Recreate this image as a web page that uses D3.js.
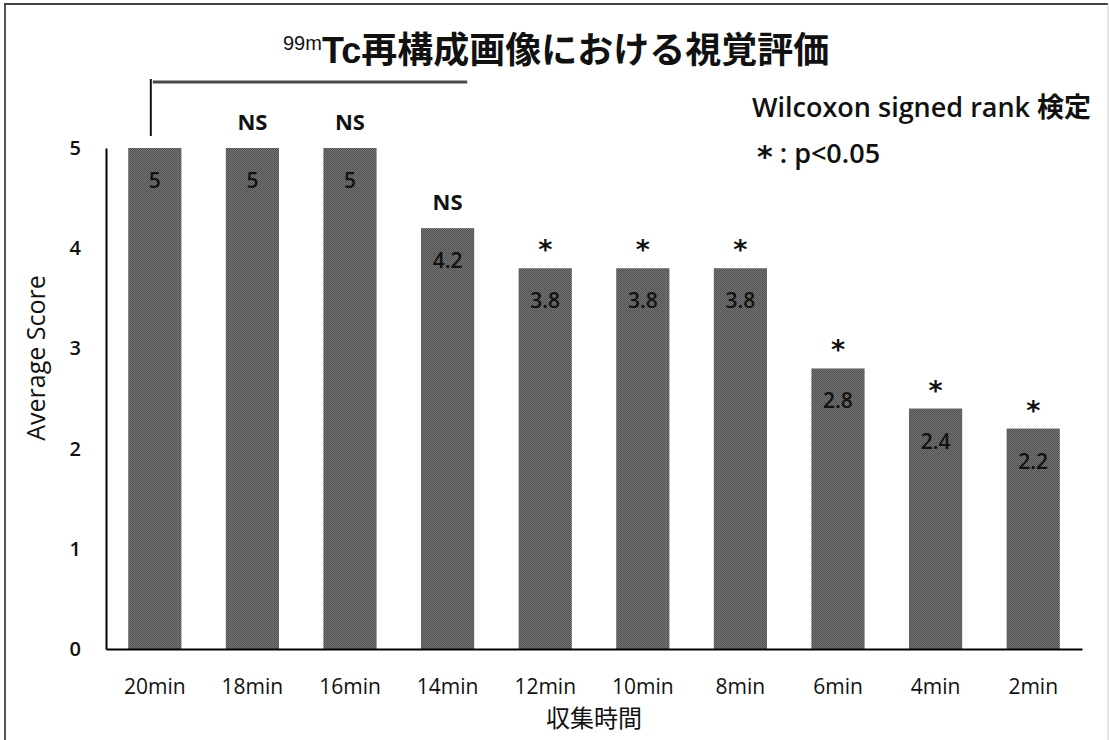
<!DOCTYPE html>
<html>
<head>
<meta charset="utf-8">
<script src="https://cdn.jsdelivr.net/npm/d3@7"></script>
<style>
  html, body { margin: 0; padding: 0; background: #fff; }
  svg { display: block; }
</style>
</head>
<body>
<svg id="chart" width="1109" height="740"></svg>
<script>
// Acquisition time categories and the mean visual score for each
const categories = ["20min", "18min", "16min", "14min", "12min", "10min", "8min", "6min", "4min", "2min"];
const scores = [5, 5, 5, 4.2, 3.8, 3.8, 3.8, 2.8, 2.4, 2.2];
// Significance marks versus the 20min reference (Wilcoxon signed rank test)
const marks = ["", "NS", "NS", "NS", "*", "*", "*", "*", "*", "*"];
const yTicks = [0, 1, 2, 3, 4, 5];

const svg = d3.select("#chart");
const W = 1109, H = 740;
const margin = { left: 106, right: 27, top: 148, bottom: 91 };

const latin = "'Open Sans', 'Noto Sans', sans-serif";
const cjk = "'Noto Sans CJK JP', 'Noto Sans', sans-serif";
const arial = "'Liberation Sans', Arial, sans-serif";
const starFont = "'DejaVu Sans', sans-serif";

// Outer frame
svg.append("line").attr("x1", 5).attr("y1", 4).attr("x2", 5).attr("y2", H)
  .attr("stroke", "#555").attr("stroke-width", 2);
svg.append("line").attr("x1", 4).attr("y1", 4).attr("x2", 1108).attr("y2", 4)
  .attr("stroke", "#444").attr("stroke-width", 2);
svg.append("line").attr("x1", 1108).attr("y1", 4).attr("x2", 1108).attr("y2", H)
  .attr("stroke", "#ccc").attr("stroke-width", 1);

// Dithered grey fill for the bars
const defs = svg.append("defs");
const pat = defs.append("pattern").attr("id", "dither")
  .attr("width", 2).attr("height", 2).attr("patternUnits", "userSpaceOnUse");
pat.append("rect").attr("width", 2).attr("height", 2).attr("fill", "#757575");
pat.append("rect").attr("width", 1).attr("height", 1).attr("fill", "#505050");
pat.append("rect").attr("x", 1).attr("y", 1).attr("width", 1).attr("height", 1).attr("fill", "#505050");

const x = d3.scaleBand()
  .domain(categories)
  .range([margin.left, W - margin.right])
  .paddingInner(0.455)
  .paddingOuter(0.2275);

const y = d3.scaleLinear()
  .domain([0, 5])
  .range([H - margin.bottom, margin.top]);

// Bars
svg.append("g").selectAll("rect")
  .data(categories)
  .join("rect")
  .attr("x", d => x(d))
  .attr("y", (d, i) => y(scores[i]))
  .attr("width", x.bandwidth())
  .attr("height", (d, i) => y(0) - y(scores[i]))
  .attr("fill", "url(#dither)");

// Value labels inside the bars
svg.append("g").selectAll("text")
  .data(categories)
  .join("text")
  .attr("x", d => x(d) + x.bandwidth() / 2)
  .attr("y", (d, i) => y(scores[i]) + 40)
  .attr("text-anchor", "middle")
  .attr("font-family", latin)
  .attr("font-size", 21)
  .attr("font-weight", 600)
  .attr("fill", "#111")
  .text((d, i) => scores[i]);

// Significance marks above the bars
svg.append("g").selectAll("text")
  .data(categories)
  .join("text")
  .attr("x", d => x(d) + x.bandwidth() / 2)
  .attr("y", (d, i) => y(scores[i]) - (marks[i] === "*" ? 9 : 18))
  .attr("text-anchor", "middle")
  .attr("font-family", (d, i) => marks[i] === "*" ? starFont : latin)
  .attr("font-size", (d, i) => marks[i] === "*" ? 27 : 22)
  .attr("font-weight", 700)
  .attr("fill", "#111")
  .text((d, i) => marks[i]);

// Reference bracket from the 20min bar
const bx0 = x(categories[0]) + x.bandwidth() / 2 - 4;
const bx1 = x(categories[3]) + x.bandwidth() - 7;
svg.append("line").attr("x1", bx0).attr("x2", bx0).attr("y1", 79).attr("y2", y(5) - 12)
  .attr("stroke", "#111").attr("stroke-width", 2);
svg.append("line").attr("x1", bx0 + 2).attr("x2", bx1).attr("y1", 82).attr("y2", 82)
  .attr("stroke", "#4a4a4a").attr("stroke-width", 3);

// Axes
const yAxis = svg.append("g")
  .attr("transform", `translate(${margin.left},0)`)
  .call(d3.axisLeft(y).tickValues(yTicks).tickSize(0).tickPadding(25).tickFormat(d3.format("d")));
yAxis.select(".domain").attr("stroke", "#000").attr("stroke-width", 2);
yAxis.selectAll("text").attr("font-family", latin).attr("font-size", 20).attr("font-weight", 600).attr("fill", "#111");

const xAxis = svg.append("g")
  .attr("transform", `translate(0,${y(0)})`)
  .call(d3.axisBottom(x).tickSize(0).tickPadding(30));
xAxis.select(".domain").attr("stroke", "#000").attr("stroke-width", 2);
xAxis.selectAll("text").attr("font-family", latin).attr("font-size", 21).attr("fill", "#111");

// Axis titles
svg.append("text")
  .attr("transform", "translate(45,358) rotate(-90)")
  .attr("text-anchor", "middle")
  .attr("font-family", latin)
  .attr("font-size", 25)
  .attr("fill", "#111")
  .text("Average Score");

svg.append("text")
  .attr("x", 594).attr("y", 727)
  .attr("text-anchor", "middle")
  .attr("font-family", cjk)
  .attr("font-size", 24)
  .attr("fill", "#111")
  .text("収集時間");

// Title
const title = svg.append("text")
  .attr("x", 283).attr("y", 63)
  .attr("fill", "#111");
title.append("tspan")
  .attr("font-family", arial)
  .attr("font-size", 20)
  .attr("dy", -13)
  .text("99m");
title.append("tspan")
  .attr("font-family", arial)
  .attr("font-size", 36)
  .attr("font-weight", 700)
  .attr("dy", 13)
  .text("Tc");
title.append("tspan")
  .attr("font-family", cjk)
  .attr("font-size", 36)
  .attr("font-weight", 700)
  .text("再構成画像における視覚評価");

// Test legend
svg.append("text")
  .attr("x", 752).attr("y", 117)
  .attr("font-family", latin)
  .attr("font-size", 27)
  .attr("font-weight", 600)
  .attr("fill", "#111")
  .text("Wilcoxon signed rank ")
  .append("tspan").attr("font-family", cjk).attr("font-weight", 700).text("検定");

svg.append("text")
  .attr("x", 757).attr("y", 163)
  .attr("font-family", latin)
  .attr("font-size", 27)
  .attr("font-weight", 600)
  .attr("fill", "#111")
  .call(t => t.append("tspan").attr("font-family", starFont).attr("font-weight", 700).attr("font-size", 30).attr("dy", 4).text("*"))
  .call(t => t.append("tspan").attr("dy", -4).text(" : p<0.05"));
</script>
</body>
</html>
